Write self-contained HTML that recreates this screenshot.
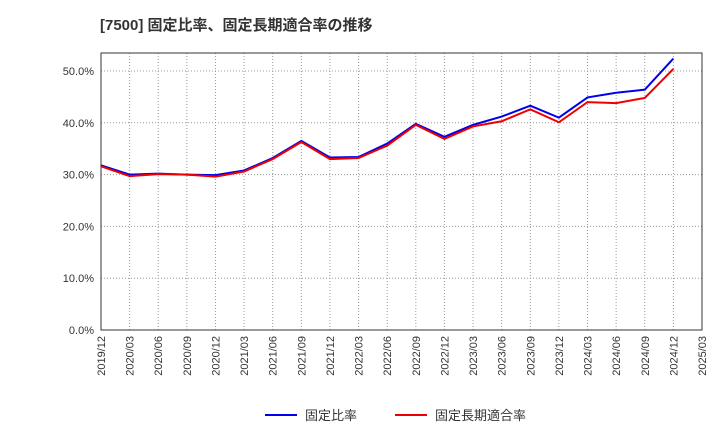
<!DOCTYPE html>
<html><head><meta charset="utf-8"><style>
body{margin:0;background:#fff;font-family:"Liberation Sans","Noto Sans CJK JP",sans-serif;}
svg text{font-family:"Liberation Sans","Noto Sans CJK JP",sans-serif;}
</style></head><body>
<svg id="chart" width="720" height="440">
<text x="100" y="30" font-size="15" font-weight="bold" fill="#333">[7500]  固定比率、固定長期適合率の推移</text>
<g id="grid"></g><g id="axes"></g><g id="series"></g>
<g>
<line x1="265" y1="415" x2="297" y2="415" stroke="#0000ee" stroke-width="2"/>
<text x="305" y="420" font-size="13" fill="#333">固定比率</text>
<line x1="395" y1="415" x2="427" y2="415" stroke="#ee0000" stroke-width="2"/>
<text x="435" y="420" font-size="13" fill="#333">固定長期適合率</text>
</g>
</svg>
<script>
const categories=["2019/12","2020/03","2020/06","2020/09","2020/12","2021/03","2021/06","2021/09","2021/12","2022/03","2022/06","2022/09","2022/12","2023/03","2023/06","2023/09","2023/12","2024/03","2024/06","2024/09","2024/12","2025/03"];
const fixedRatio=[31.8,30.0,30.2,30.0,29.9,30.8,33.2,36.5,33.3,33.4,36.0,39.8,37.3,39.6,41.2,43.3,41.0,44.9,45.8,46.4,52.4];
const fixedLongTerm=[31.6,29.7,30.1,30.0,29.6,30.6,33.0,36.3,33.0,33.2,35.6,39.6,36.9,39.3,40.3,42.6,40.1,44.0,43.8,44.8,50.4];
const yTicks=[0,10,20,30,40,50];
const yTickLabels=["0.0%","10.0%","20.0%","30.0%","40.0%","50.0%"];
const L=101,R=702,T=53,B=330;
const ns="http://www.w3.org/2000/svg";
const x=i=>L+i*(R-L)/(categories.length-1);
const y=v=>B-v*(B-71)/50;
function mk(tag,attrs,parent){const e=document.createElementNS(ns,tag);for(const k in attrs)e.setAttribute(k,attrs[k]);document.getElementById(parent).appendChild(e);return e;}
categories.forEach((c,i)=>{
 const g=mk("line",{x1:x(i),x2:x(i),y1:T,y2:B,stroke:"#999","stroke-dasharray":"1,2","stroke-width":1},"grid");
 
 
 const t=mk("text",{x:0,y:0,"font-size":11,fill:"#333","text-anchor":"end",transform:`translate(${x(i)+4},${B+6}) rotate(-90)`},"axes");
 t.textContent=c;
 
 
});
yTicks.forEach((v,i)=>{
 const g=mk("line",{x1:L,x2:R,y1:y(v),y2:y(v),stroke:"#999","stroke-dasharray":"1,2","stroke-width":1},"grid");
 
 
 const t=mk("text",{x:L-7,y:y(v)+4,"font-size":11,fill:"#333","text-anchor":"end"},"axes");
 t.textContent=yTickLabels[i];
 
 
});
const fr=mk("rect",{x:L,y:T,width:R-L,height:B-T,fill:"none",stroke:"#333","stroke-width":1},"axes");


function line(data,color,name){
 const p=mk("polyline",{points:data.map((v,i)=>x(i)+","+y(v)).join(" "),fill:"none",stroke:color,"stroke-width":2},"series");
 
 
}
line(fixedRatio,"#0000ee","fixed-ratio-line");
line(fixedLongTerm,"#ee0000","fixed-long-term-ratio-line");
</script>
</body></html>
